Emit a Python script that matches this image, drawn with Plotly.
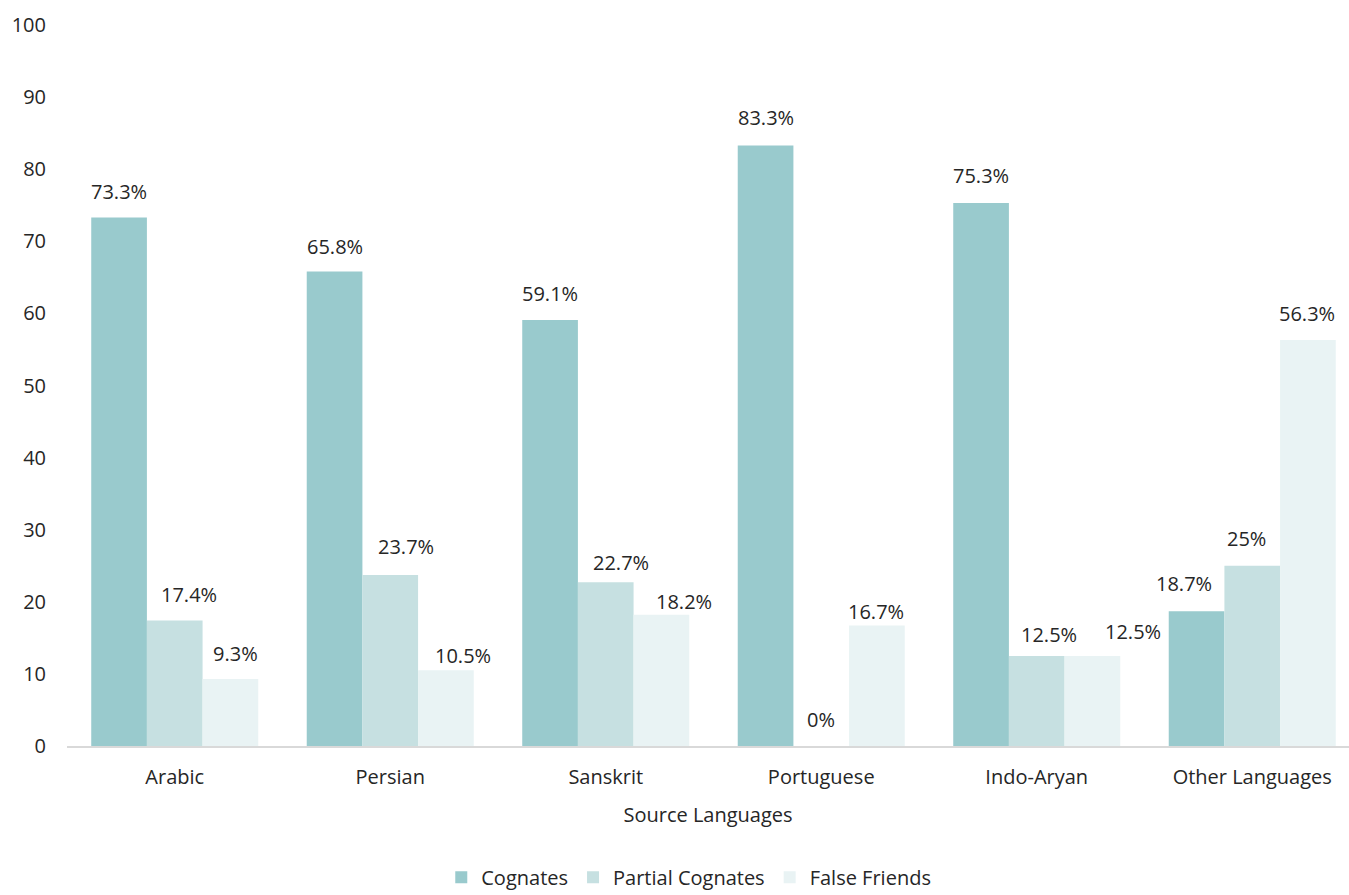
import plotly.graph_objects as go

categories = ["Arabic", "Persian", "Sanskrit", "Portuguese", "Indo-Aryan", "Other Languages"]
cognates = [73.3, 65.8, 59.1, 83.3, 75.3, 18.7]
partial_cognates = [17.4, 23.7, 22.7, 0, 12.5, 25]
false_friends = [9.3, 10.5, 18.2, 16.7, 12.5, 56.3]
series_names = ["Cognates", "Partial Cognates", "False Friends"]
series_values = [cognates, partial_cognates, false_friends]
label_texts = [
    ["73.3%", "65.8%", "59.1%", "83.3%", "75.3%", "18.7%"],
    ["17.4%", "23.7%", "22.7%", "0%", "12.5%", "25%"],
    ["9.3%", "10.5%", "18.2%", "16.7%", "12.5%", "56.3%"],
]

# styling: per-label pixel nudges (as positioned in the source chart)
label_dx = [
    [0, 0, 0, 0, 0, -13],
    [14, 16, 15, 0, 12, -6],
    [5, 17, 23, -1, 41, -1],
]
label_dy = [
    [0, -1, 0, 1, 1, 1],
    [0, 2, -7, 0, -5, 1],
    [-1, -12, -13, -12, -2, 0],
]
colors = ["#99CACD", "#C6E0E1", "#E9F3F4"]
FONT = "Open Sans"
TXT = "#262626"
FS = 20

fig = go.Figure()
for name, vals, col in zip(series_names, series_values, colors):
    fig.add_trace(go.Bar(x=categories, y=vals, name=name, marker=dict(color=col, line=dict(width=0))))

bar_w = 55.5
offsets = [-bar_w, 0, bar_w]
for s, texts in enumerate(label_texts):
    for c, t in enumerate(texts):
        fig.add_annotation(x=categories[c], y=series_values[s][c], text=t, showarrow=False,
                           xref="x", yref="y", xanchor="center", yanchor="bottom",
                           xshift=offsets[s] + label_dx[s][c], yshift=11 + label_dy[s][c],
                           font=dict(family=FONT, size=FS, color=TXT))

fig.update_layout(
    width=1349, height=895,
    margin=dict(l=67, r=0, t=25, b=149, autoexpand=False),
    paper_bgcolor="white", plot_bgcolor="white",
    barmode="group", bargap=0.225, bargroupgap=0,
    font=dict(family=FONT, size=FS, color=TXT),
    showlegend=True,
    legend=dict(orientation="h", x=0.485, xanchor="center", y=-0.182, yanchor="middle",
                font=dict(family=FONT, size=FS, color=TXT), traceorder="normal"),
    xaxis=dict(range=[-0.5, 5.449], showgrid=False, showline=True, linecolor="#D9D9D9", linewidth=2,
               ticks="", automargin=False, ticklabelstandoff=12,
               tickfont=dict(family=FONT, size=FS, color=TXT),
               title=dict(text="Source Languages", font=dict(family=FONT, size=FS, color=TXT), standoff=19)),
    yaxis=dict(range=[0, 100], dtick=10, showgrid=False, zeroline=False, showline=False,
               ticks="", automargin=False, ticklabelstandoff=20,
               tickfont=dict(family=FONT, size=FS, color=TXT)),
)

fig.write_html("out.html")
